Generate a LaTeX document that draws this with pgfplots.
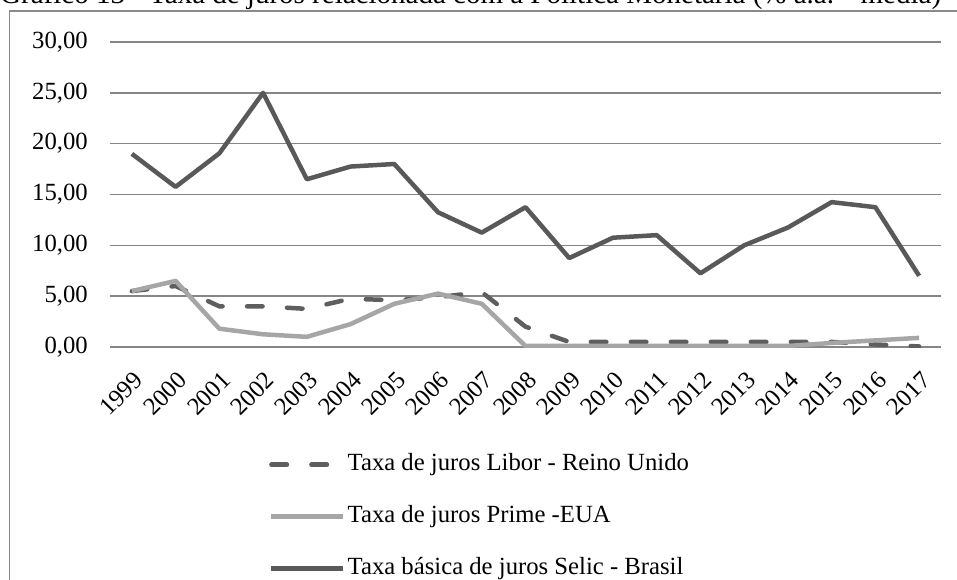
\documentclass[border=0pt]{standalone}
\usepackage{fontspec}
\setmainfont{Liberation Serif}
\usepackage{pgfplots}
\pgfplotsset{compat=1.18}
\definecolor{selic}{HTML}{595959}
\definecolor{libor}{HTML}{5E5E5E}
\definecolor{prime}{HTML}{A6A6A6}
\definecolor{gridc}{HTML}{868686}
\definecolor{framec}{HTML}{8A8A8A}
\begin{document}
\begin{tikzpicture}
\draw[framec, line width=1.5pt] (9.5pt,-30pt) -- (9.5pt,568pt) -- (1000pt,568pt);
\node[anchor=base west, inner sep=0pt, font=\fontsize{29}{34}\selectfont] at (0pt,575pt)
  {Gráfico 13 - Taxa de juros relacionada com a Política Monetária (\% a.a. - média)};
\begin{axis}[
  at={(110pt,232pt)}, anchor=south west,
  scale only axis, width=831pt, height=305pt,
  xmin=-0.5, xmax=18.5, ymin=0, ymax=30,
  xtick={0,...,18},
  xticklabels={1999,2000,2001,2002,2003,2004,2005,2006,2007,2008,2009,2010,2011,2012,2013,2014,2015,2016,2017},
  ytick={0,5,...,30},
  yticklabels={{0,00},{5,00},{10,00},{15,00},{20,00},{25,00},{30,00}},
  axis line style={draw=none},
  major tick length=0pt,
  ymajorgrids, grid style={gridc, line width=1.5pt},
  tick label style={font=\fontsize{24.7}{29}\selectfont},
  yticklabel style={anchor=east, inner sep=0pt, xshift=-22pt},
  xticklabel style={xshift=1pt, yshift=-23pt, rotate=45, anchor=north east, inner sep=0pt},
  legend cell align=left,
  legend style={draw=none, fill=none, at={(0.1913,-0.346)}, anchor=north west,
    inner sep=0pt, row sep=28pt,
    font=\fontsize{24.7}{29}\selectfont,
    nodes={inner sep=0pt, text height=18pt, text depth=6pt},
    /tikz/every odd column/.append style={column sep=2pt}},
  legend image code/.code={\draw[#1] (0pt,0pt) -- (72pt,0pt);},
  line join=round,
]
\addplot[libor, line width=4.5pt, line cap=round, dash pattern=on 15.5pt off 24.5pt] coordinates {
(0,5.5) (1,6.0) (2,4.0) (3,4.0) (4,3.75) (5,4.75) (6,4.6) (7,4.9) (8,5.4) (9,2.0)
(10,0.5) (11,0.5) (12,0.5) (13,0.5) (14,0.5) (15,0.5) (16,0.5) (17,0.25) (18,0.05)};
\addlegendentry{Taxa de juros Libor - Reino Unido}
\addplot[prime, line width=4.5pt] coordinates {
(0,5.5) (1,6.5) (2,1.8) (3,1.25) (4,1.0) (5,2.25) (6,4.25) (7,5.25) (8,4.25) (9,0.1)
(10,0.1) (11,0.1) (12,0.1) (13,0.1) (14,0.1) (15,0.1) (16,0.4) (17,0.65) (18,0.9)};
\addlegendentry{Taxa de juros Prime -EUA}
\addplot[selic, line width=4.5pt] coordinates {
(0,19.0) (1,15.75) (2,19.05) (3,25.0) (4,16.5) (5,17.75) (6,18.0) (7,13.25) (8,11.25) (9,13.75)
(10,8.75) (11,10.75) (12,11.0) (13,7.25) (14,10.0) (15,11.75) (16,14.25) (17,13.75) (18,7.0)};
\addlegendentry{Taxa básica de juros Selic - Brasil}
\end{axis}
\pgfresetboundingbox
\useasboundingbox (0pt,0pt) rectangle (957pt,579pt);
\end{tikzpicture}
\end{document}
